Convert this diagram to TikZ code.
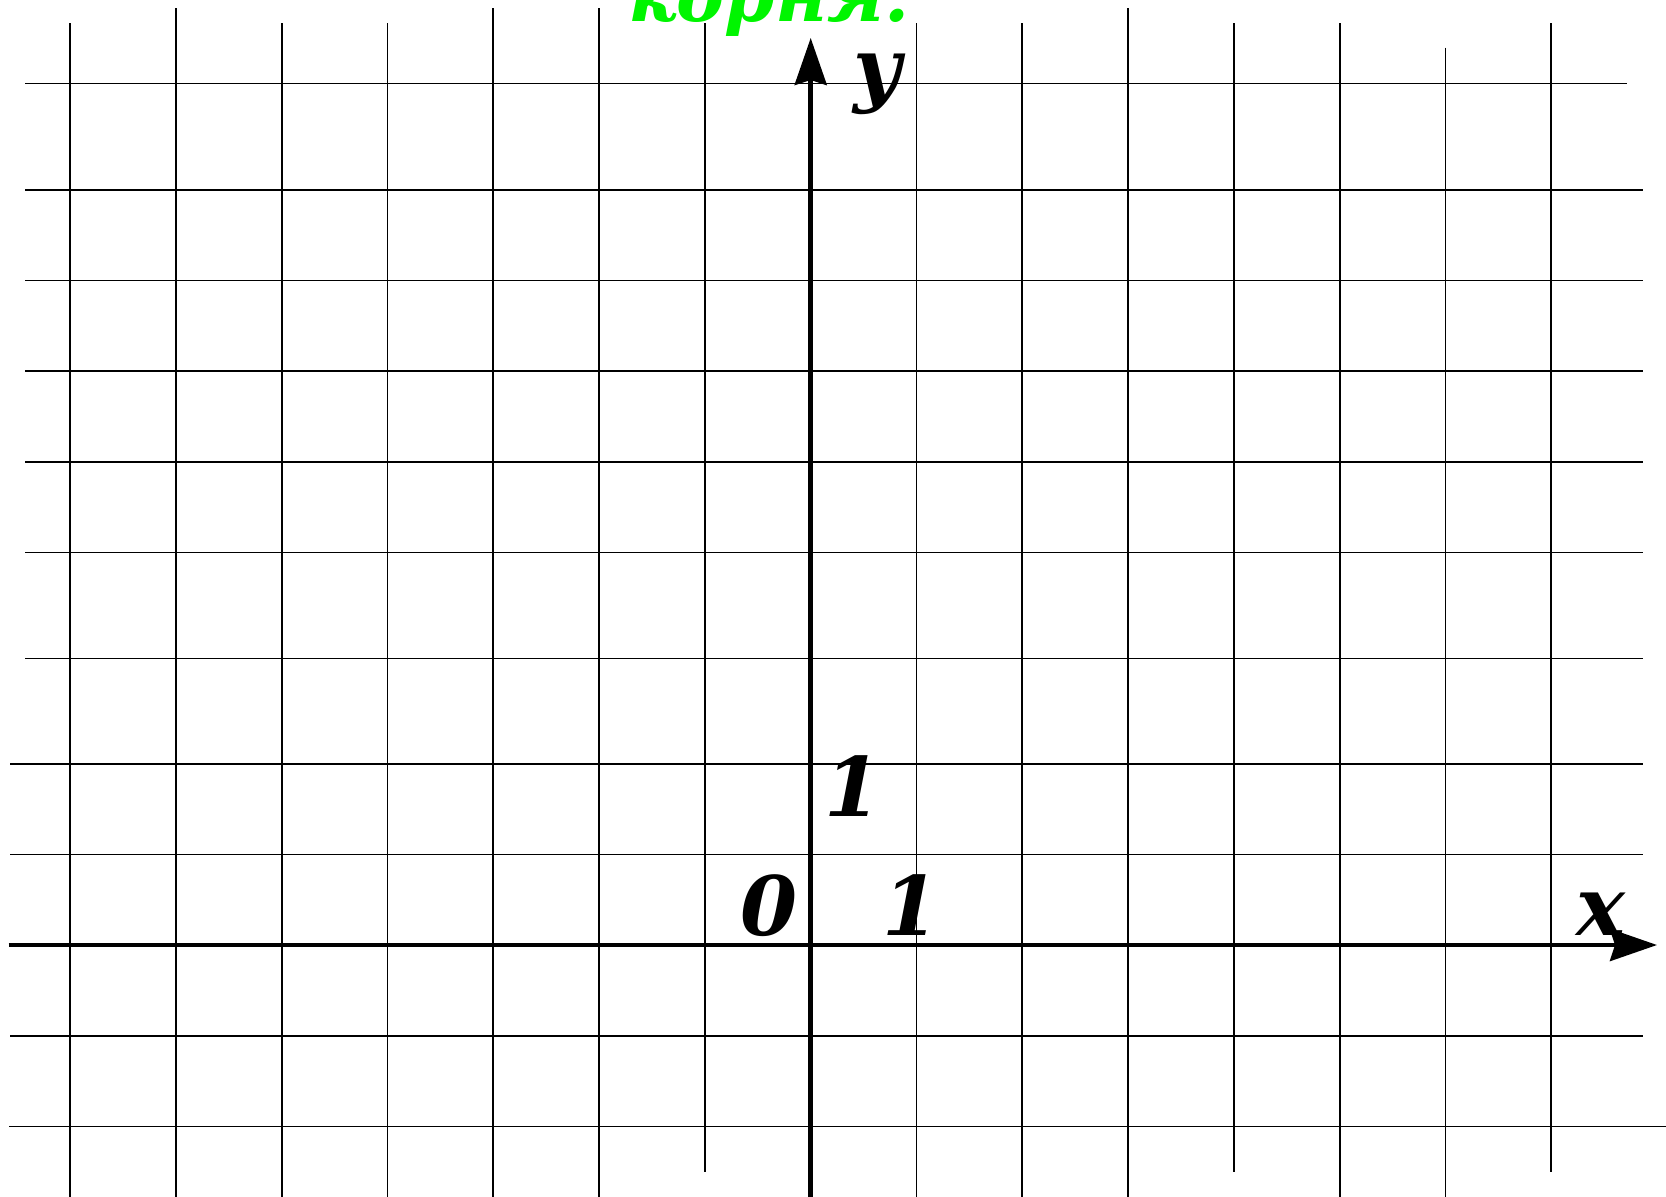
\documentclass[tikz,border=0pt]{standalone}
\usepackage{fontspec}
\setmainfont{DejaVu Serif}
\usetikzlibrary{arrows.meta}
\definecolor{brightgreen}{RGB}{0,245,0}
\tikzset{
  gridline/.style={line width=1.8pt,black},
  axisline/.style={line width=4.5pt,black,-{Stealth[length=47pt,width=32pt,inset=5pt]}},
  lbl/.style={inner sep=0pt,anchor=base,font=\fontsize{82}{90}\selectfont\bfseries\itshape},
  title/.style={inner sep=0pt,anchor=base,text=brightgreen,font=\fontsize{72}{80}\selectfont\bfseries\itshape}
}
\begin{document}
\begin{tikzpicture}[x=1pt,y=-1pt]
\useasboundingbox (0,0) rectangle (1666,1197);
\fill[white] (0,0) rectangle (1666,1197);
% vertical grid lines: index/top/bottom
\foreach \i/\t/\b in {0/23/1197,1/8/1197,2/23/1197,3/23/1197,4/8/1197,5/8/1197,6/23/1172,
                      8/23/1197,9/23/1197,10/8/1197,11/23/1172,12/23/1197,13/47.5/1197,14/23/1172}
  \draw[gridline] ({70+105.8*\i},\t) -- ({70+105.8*\i},\b);
% horizontal grid lines: y/left/right
\foreach \y/\l/\r in {83.5/25/1627,190/25/1642.5,280.5/25/1642.5,371/25/1642.5,462/25/1642.5,
                      552.5/25/1642.5,658.5/25/1642.5,764/10/1642.5,854.5/10/1642.5,
                      1036/10/1642.5,1126.5/9/1666}
  \draw[gridline] (\l,\y) -- (\r,\y);
% axes
\coordinate (xs) at (8.5,945);
\coordinate (xe) at (1657,945);
\coordinate (ys) at (810.7,1197);
\coordinate (ye) at (810.7,38);
\draw[axisline] (xs) -- (xe);
\draw[axisline] (ys) -- (ye);
% labels
\node[lbl] (ly) at (877,96) {y};
\node[lbl] (lx) at (1601,935) {x};
\node[lbl] (l0) at (769,935) {0};
\node[lbl] (l1x) at (911,935) {1};
\node[lbl] (l1y) at (853,816) {1};
\node[title] (t) at (769,21.7) {корня.};
\end{tikzpicture}
\end{document}
